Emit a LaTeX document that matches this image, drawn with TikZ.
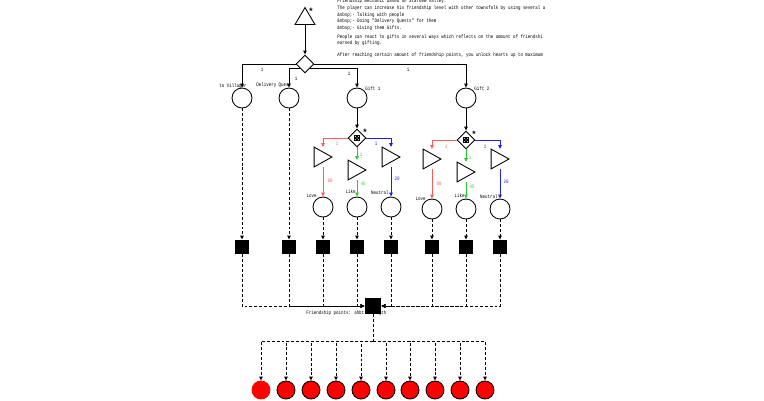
\documentclass[tikz,border=0pt]{standalone}
\usepackage{fontspec}
\setmonofont{Liberation Mono}
\newfontfamily\machfont[FakeStretch=0.8]{Liberation Mono}
\usetikzlibrary{arrows.meta}
\usetikzlibrary{shapes.geometric}

\definecolor{loveline}{RGB}{255,90,90}
\definecolor{likeline}{RGB}{40,205,40}
\definecolor{neutralline}{RGB}{30,30,230}

\tikzset{
  pool/.style={circle,draw,fill=white,minimum size=6mm,inner sep=0pt},
  drain/.style={rectangle,fill=black,minimum size=4.2mm,inner sep=0pt},
  gate/.style={diamond,draw,fill=white,minimum width=5.4mm,minimum height=5.4mm,inner sep=0pt},
  conv/.style={rectangle,minimum width=5.1mm,minimum height=5.7mm,inner sep=0pt},
  heart/.style={circle,draw,fill=red,minimum size=5.4mm,inner sep=0pt},
  lbl/.style={font=\fontsize{4.4}{5}\selectfont\machfont,inner sep=0pt},
  star/.style={font=\fontsize{7.5}{7.5}\selectfont\ttfamily\bfseries,inner sep=0pt},
  flow/.style={-{Triangle[length=3.4pt,width=3pt]}},
  stateline/.style={flow,dash pattern=on 2.5pt off 1.7pt},
}

\begin{document}
\begin{tikzpicture}[x=0.3mm,y=-0.3mm,line width=0.75pt]
\useasboundingbox (0,0) rectangle (764,400);

\node[lbl,anchor=north west,align=left,font=\fontsize{4.4}{5.7}\selectfont\machfont] (notes) at (337,-1.5) {Friendship mechanic based on Stardew Valley.\\
The player can increase his friendship level with other townsfolk by using several a\\
\&nbsp;- Talking with people\\
\&nbsp;- Doing "Delivery Quests" for them\\
\&nbsp;- Giving them Gifts.\\[1.7pt]
People can react to gifts in several ways which reflects on the amount of friendshi\\
earned by gifting.\\[4.3pt]
After reaching certain amount of friendship points, you unlock hearts up to maximum};

\node[conv,minimum width=5.7mm,minimum height=4.8mm] (src) at (305,16) {};
\draw (src.north) -- (src.south east) -- (src.south west) -- cycle;
\node[star] (srcstar) at (311,11) {*};

\node[gate] (gate) at (305,64) {};
\draw[flow] (src) -- (gate);

\node[lbl,anchor=west] (villbl) at (219,86) {to Villager};
\node[lbl,anchor=west] (dellbl) at (256,85) {Delivery Quest};
\node[lbl,anchor=west] (gift1lbl) at (365,89) {Gift 1};
\node[lbl,anchor=west] (gift2lbl) at (474,89) {Gift 2};

\node[pool] (vil) at (242,98) {};
\node[pool] (del) at (289,98) {};
\node[pool] (gift1) at (357,98) {};
\node[pool] (gift2) at (466,98) {};

\draw[flow] (gate.west) -| (vil);
\draw[flow] (gate.south west) -| (del);
\draw[flow] (gate.south east) -| (gift1);
\draw[flow] (gate.east) -| (gift2);
\node[lbl] (vilw) at (262,70) {1};
\node[lbl] (delw) at (296,79) {1};
\node[lbl] (gift1w) at (349,74) {1};
\node[lbl] (gift2w) at (408,70) {1};

\node[gate] (roll1) at (357,138) {};
\fill (roll1) +(-3.2,-3.2) rectangle +(3.2,3.2);
\fill[white] (roll1) circle (0.45pt) +(-1.7,-1.7) circle (0.45pt) +(1.7,-1.7) circle (0.45pt) +(-1.7,1.7) circle (0.45pt) +(1.7,1.7) circle (0.45pt);
\node[star] (roll1star) at (365,132) {*};
\draw[flow] (gift1) -- (roll1);

\node[conv] (love1cv) at (323,157) {};
\node[conv] (like1cv) at (357,170) {};
\node[conv] (neut1cv) at (391,157) {};
\draw (love1cv.north west) -- (love1cv.east) -- (love1cv.south west) -- cycle;
\draw (like1cv.north west) -- (like1cv.east) -- (like1cv.south west) -- cycle;
\draw (neut1cv.north west) -- (neut1cv.east) -- (neut1cv.south west) -- cycle;

\node[lbl,anchor=east] (love1lbl) at (317,196) {Love};
\node[lbl,anchor=east] (like1lbl) at (356,192) {Like};
\node[lbl,anchor=east] (neut1lbl) at (389,193) {Neutral};
\node[pool] (love1) at (323,207) {};
\node[pool] (like1) at (357,207) {};
\node[pool] (neut1) at (391,207) {};

\draw[flow,loveline] (roll1.west) -| (love1cv);
\draw[flow,likeline] (roll1.south) -- (like1cv);
\draw[flow,neutralline] (roll1.east) -| (neut1cv);
\draw[flow,loveline] (love1cv) -- (love1);
\draw[flow,likeline] (like1cv) -- (like1);
\draw[flow,neutralline] (neut1cv) -- (neut1);
\node[lbl,loveline] (love1in) at (337,144) {1};
\node[lbl,likeline] (like1in) at (361,155) {1};
\node[lbl,neutralline] (neut1in) at (376,144) {1};
\node[lbl,loveline] (love1out) at (330,181) {80};
\node[lbl,likeline] (like1out) at (363,184) {45};
\node[lbl,neutralline] (neut1out) at (397,179) {20};

\node[gate] (roll2) at (466,140) {};
\fill (roll2) +(-3.2,-3.2) rectangle +(3.2,3.2);
\fill[white] (roll2) circle (0.45pt) +(-1.7,-1.7) circle (0.45pt) +(1.7,-1.7) circle (0.45pt) +(-1.7,1.7) circle (0.45pt) +(1.7,1.7) circle (0.45pt);
\node[star] (roll2star) at (474,134) {*};
\draw[flow] (gift2) -- (roll2);

\node[conv] (love2cv) at (432,159) {};
\node[conv] (like2cv) at (466,172) {};
\node[conv] (neut2cv) at (500,159) {};
\draw (love2cv.north west) -- (love2cv.east) -- (love2cv.south west) -- cycle;
\draw (like2cv.north west) -- (like2cv.east) -- (like2cv.south west) -- cycle;
\draw (neut2cv.north west) -- (neut2cv.east) -- (neut2cv.south west) -- cycle;

\node[lbl,anchor=east] (love2lbl) at (426,199) {Love};
\node[lbl,anchor=east] (like2lbl) at (465,196) {Like};
\node[lbl,anchor=east] (neut2lbl) at (498,197) {Neutral};
\node[pool] (love2) at (432,209) {};
\node[pool] (like2) at (466,209) {};
\node[pool] (neut2) at (500,209) {};

\draw[flow,loveline] (roll2.west) -| (love2cv);
\draw[flow,likeline] (roll2.south) -- (like2cv);
\draw[flow,neutralline] (roll2.east) -| (neut2cv);
\draw[flow,loveline] (love2cv) -- (love2);
\draw[flow,likeline] (like2cv) -- (like2);
\draw[flow,neutralline] (neut2cv) -- (neut2);
\node[lbl,loveline] (love2in) at (446,147) {1};
\node[lbl,likeline] (like2in) at (470,158) {1};
\node[lbl,neutralline] (neut2in) at (485,147) {1};
\node[lbl,loveline] (love2out) at (439,184) {80};
\node[lbl,likeline] (like2out) at (472,187) {45};
\node[lbl,neutralline] (neut2out) at (506,182) {20};

\node[drain] (sqvil) at (242,247) {};
\node[drain] (sqdel) at (289,247) {};
\node[drain] (sqlove1) at (323,247) {};
\node[drain] (sqlike1) at (357,247) {};
\node[drain] (sqneut1) at (391,247) {};
\node[drain] (sqlove2) at (432,247) {};
\node[drain] (sqlike2) at (466,247) {};
\node[drain] (sqneut2) at (500,247) {};

\draw[stateline] (vil) -- (sqvil);
\draw[stateline] (del) -- (sqdel);
\draw[stateline] (love1) -- (sqlove1);
\draw[stateline] (like1) -- (sqlike1);
\draw[stateline] (neut1) -- (sqneut1);
\draw[stateline] (love2) -- (sqlove2);
\draw[stateline] (like2) -- (sqlike2);
\draw[stateline] (neut2) -- (sqneut2);

\node[lbl,anchor=west] (fplbl) at (306,313) {Friendship points: ahbt strength};
\node[drain,minimum size=4.8mm] (fp) at (373,306) {};

\draw[stateline] (sqvil) |- (fp);
\draw[stateline] (sqdel) |- (fp);
\draw[stateline] (sqlove1) |- (fp);
\draw[stateline] (sqlike1) |- (fp);
\draw[stateline] (sqneut1) |- (fp);
\draw[stateline] (sqlove2) |- (fp);
\draw[stateline] (sqlike2) |- (fp);
\draw[stateline] (sqneut2) |- (fp);

\coordinate (split) at (373,341);
\node[heart,draw=red] (heart1) at (261,390) {};
\node[heart] (heart2) at (286,390) {};
\node[heart] (heart3) at (311,390) {};
\node[heart] (heart4) at (336,390) {};
\node[heart] (heart5) at (361,390) {};
\node[heart] (heart6) at (386,390) {};
\node[heart] (heart7) at (410,390) {};
\node[heart] (heart8) at (435,390) {};
\node[heart] (heart9) at (460,390) {};
\node[heart] (heart10) at (485,390) {};

\draw[dash pattern=on 2.5pt off 1.7pt] (fp) -- (split);
\draw[stateline] (split) -| (heart1);
\draw[stateline] (split) -| (heart2);
\draw[stateline] (split) -| (heart3);
\draw[stateline] (split) -| (heart4);
\draw[stateline] (split) -| (heart5);
\draw[stateline] (split) -| (heart6);
\draw[stateline] (split) -| (heart7);
\draw[stateline] (split) -| (heart8);
\draw[stateline] (split) -| (heart9);
\draw[stateline] (split) -| (heart10);
\end{tikzpicture}
\end{document}
